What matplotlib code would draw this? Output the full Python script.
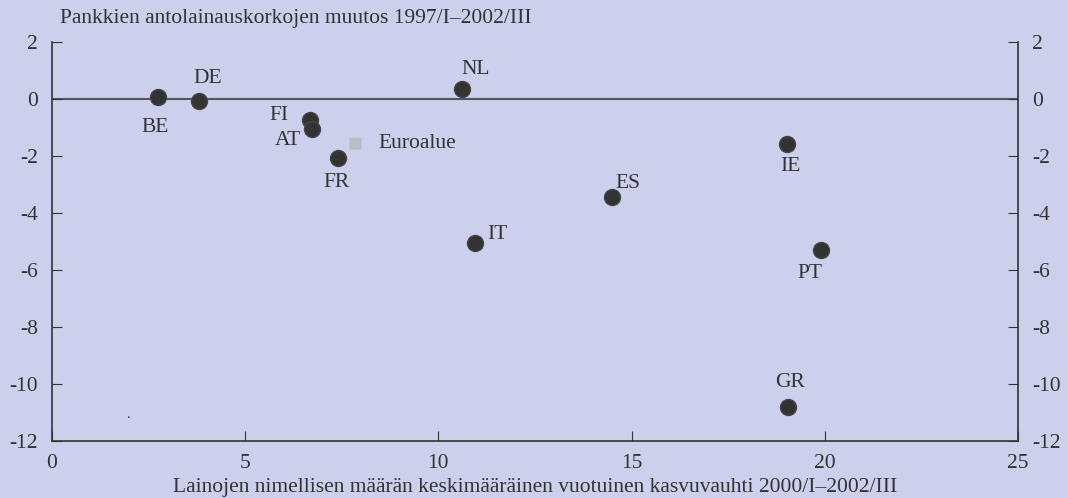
import matplotlib as mpl
mpl.use('Agg')
import matplotlib.pyplot as plt

countries = ['BE', 'DE', 'FI', 'AT', 'FR', 'NL', 'IT', 'ES', 'IE', 'PT', 'GR']
loan_growth = [2.74, 3.80, 6.68, 6.73, 7.40, 10.61, 10.95, 14.49, 19.02, 19.90, 19.05]
rate_change = [0.07, -0.07, -0.74, -1.05, -2.07, 0.35, -5.05, -3.44, -1.58, -5.30, -10.81]
euro_x = [7.84]
euro_y = [-1.54]

# label offsets in pixels (dx, dy) relative to each point
offsets = {'BE': (-3, -30), 'DE': (9, 22), 'FI': (-31, 5), 'AT': (-24, -12),
           'FR': (-1, -25), 'NL': (14, 20), 'IT': (22, 8), 'ES': (16, 14),
           'IE': (3, -22), 'PT': (-11, -23), 'GR': (2, 25)}

bg = '#ccd0ec'
ink = '#333333'
fs = 15.5
plt.rcParams['font.family'] = ['Liberation Serif', 'DejaVu Serif']
plt.rcParams['axes.unicode_minus'] = False

fig = plt.figure(figsize=(10.68, 4.98), dpi=100, facecolor=bg)
ax = fig.add_axes([52/1068, 1-441/498, 966/1068, 399/498])
ax.set_facecolor(bg)

ax.axhline(0, color='#555555', lw=1.5, zorder=1)
ax.plot(loan_growth, rate_change, 'o', ms=11.5, color=ink, mec='#444444', mew=1, zorder=3)
ax.plot(euro_x, euro_y, 's', ms=9, color='#bcbcc4', mec='none', zorder=3)

for c, x, y in zip(countries, loan_growth, rate_change):
    dx, dy = offsets[c]
    ax.annotate(c, (x, y), xytext=(dx, dy), textcoords='offset pixels',
                ha='center', va='center', fontsize=fs, color=ink)
ax.annotate('Euroalue', (euro_x[0], euro_y[0]), xytext=(23, -1), textcoords='offset pixels',
            ha='left', va='center', fontsize=fs, color=ink)
ax.text(1.95, -11.2, '.', fontsize=10, color=ink, ha='center')

ax.set_xlim(0, 25)
ax.set_ylim(-12, 2)
ax.set_xticks(range(0, 26, 5))
ax.set_yticks(range(-12, 3, 2))
ax.spines['top'].set_visible(False)
for s in ['left', 'right', 'bottom']:
    ax.spines[s].set_color(ink)
    ax.spines[s].set_linewidth(1.2)
ax.tick_params(axis='both', direction='in', length=7, color=ink, labelcolor=ink, labelsize=fs)
ax.tick_params(axis='y', right=True, labelright=True, pad=10)
ax.tick_params(axis='x', pad=9)

fig.text(60/1068, 1-19/498, 'Pankkien antolainauskorkojen muutos 1997/I\u20132002/III',
         fontsize=fs, color=ink, va='center', ha='left')
ax.set_xlabel('Lainojen nimellisen m\u00e4\u00e4r\u00e4n keskim\u00e4\u00e4r\u00e4inen vuotuinen kasvuvauhti 2000/I\u20132002/III',
              fontsize=fs, color=ink, labelpad=4)

fig.savefig('out.png', dpi=100, facecolor=bg)
